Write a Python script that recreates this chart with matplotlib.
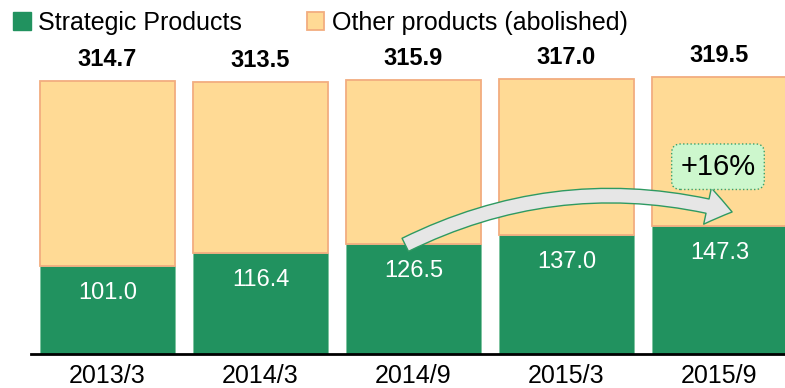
import matplotlib
matplotlib.use('Agg')
import matplotlib.pyplot as plt
from matplotlib.patches import Patch, FancyArrowPatch
import numpy as np

plt.rcParams['font.family'] = ['Liberation Sans', 'DejaVu Sans']

# Dane
okresy = ['2013/3', '2014/3', '2014/9', '2015/3', '2015/9']
strategiczne = [101.0, 116.4, 126.5, 137.0, 147.3]
razem = [314.7, 313.5, 315.9, 317.0, 319.5]
zmiana_etykieta = '+16%'

ZIELONY = '#21925f'
POMARANCZ = '#ffda95'
KRAWEDZ = '#f2ad7f'

pozostale = [r - s for r, s in zip(razem, strategiczne)]
x = np.arange(len(okresy))

fig = plt.figure(figsize=(7.85, 3.88), dpi=100)
ax = fig.add_axes([31 / 785, 34 / 388, 754 / 785, 354 / 388])

skala = 277 / 319.5  # piksele na jednostke
ax.set_ylim(0, 354 / skala)
ax.set_xlim(-0.5, (785 - 107.5) / 153)

szer = 0.88
ax.bar(x, strategiczne, szer, color=ZIELONY, edgecolor='#7cc49f', linewidth=0.6)
ax.bar(x, pozostale, szer, bottom=strategiczne, color=POMARANCZ, edgecolor=KRAWEDZ, linewidth=1.3)

# Etykiety wartosci
for i in range(len(okresy)):
    ax.text(x[i], razem[i] + 25, f'{razem[i]:.1f}', ha='center', va='center',
            fontsize=17, fontweight='bold', color='black')
    ax.text(x[i], strategiczne[i] - 31, f'{strategiczne[i]:.1f}', ha='center', va='center',
            fontsize=17, color='white')

# Strzalka wzrostu
strzalka = FancyArrowPatch((1.93, strategiczne[2] - 2), (4.10, 163),
                           connectionstyle='arc3,rad=-0.19',
                           arrowstyle='simple,head_width=1.9,head_length=1.3,tail_width=0.75',
                           mutation_scale=14, facecolor='#e6e6e6', edgecolor='#2e9a62',
                           linewidth=1.0, zorder=5)
ax.add_patch(strzalka)

ax.text(3.99, 216, zmiana_etykieta, ha='center', va='center', fontsize=21, zorder=6,
        bbox=dict(boxstyle='round,pad=0.3,rounding_size=0.3', facecolor='#cdf7cd',
                  edgecolor='#3aa06a', linewidth=1.0, linestyle=':'))

# Osie
for s in ['top', 'right', 'left']:
    ax.spines[s].set_visible(False)
ax.spines['bottom'].set_linewidth(2)
ax.spines['bottom'].set_color('black')
ax.set_yticks([])
ax.set_xticks(x)
ax.set_xticklabels(okresy, fontsize=18)
ax.tick_params(axis='x', length=0, pad=7)

# Legenda
uchwyty = [Patch(facecolor=ZIELONY, edgecolor=ZIELONY),
           Patch(facecolor=POMARANCZ, edgecolor=KRAWEDZ, linewidth=1.3)]
fig.legend(uchwyty, ['Strategic Products', 'Other products (abolished)'],
           loc='upper left', bbox_to_anchor=(-0.012, 1.03), ncol=2, frameon=False,
           fontsize=18, handlelength=0.7, handleheight=0.7, handletextpad=0.3,
           columnspacing=2.6)

fig.savefig('out.png', dpi=100)
